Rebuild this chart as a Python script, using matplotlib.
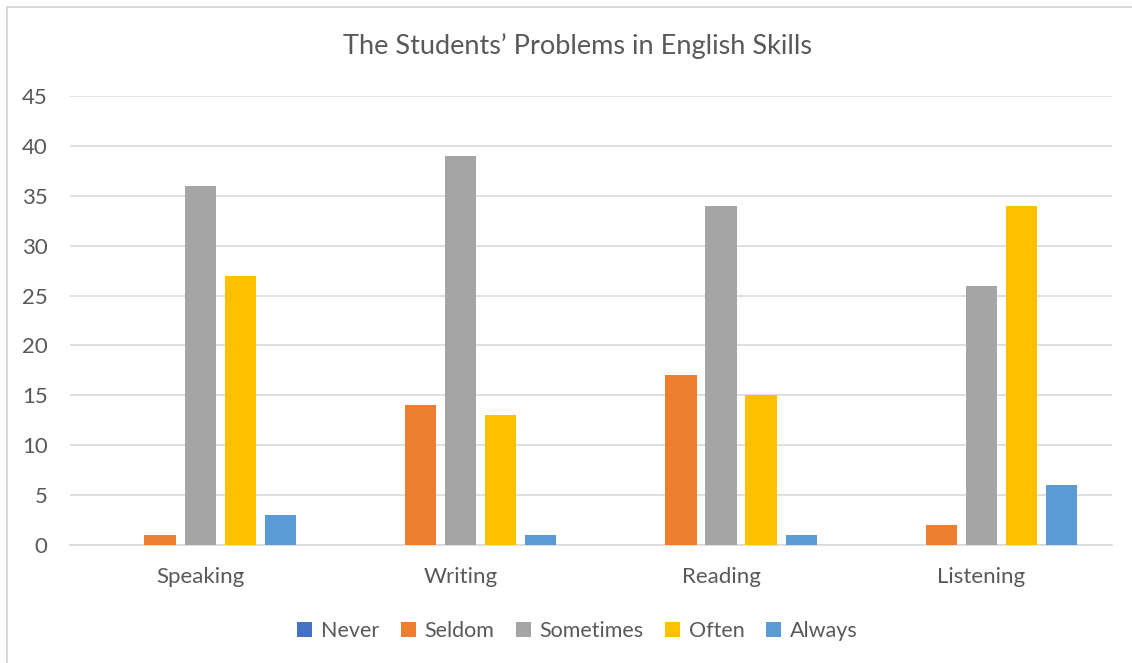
import matplotlib.pyplot as plt
import numpy as np

skills = ['Speaking', 'Writing', 'Reading', 'Listening']
series = ['Never', 'Seldom', 'Sometimes', 'Often', 'Always']
never = [0, 0, 0, 0]
seldom = [1, 14, 17, 2]
sometimes = [36, 39, 34, 26]
often = [27, 13, 15, 34]
always = [3, 1, 1, 6]
colors = ['#4472c4', '#ed7d31', '#a5a5a5', '#ffc000', '#5b9bd5']

plt.rcParams['font.family'] = ['Lato', 'DejaVu Sans']

fig = plt.figure(figsize=(11.32, 6.63), dpi=100)
ax = fig.add_axes([0.0618, 0.178, 0.9202, 0.677])

x = np.arange(len(skills))
step = 0.154
width = 0.12
for i, (vals, name) in enumerate(zip([never, seldom, sometimes, often, always], series)):
    ax.bar(x + (i - 2) * step, vals, width, color=colors[i], label=name, zorder=3)

ax.set_xlim(-0.5, 3.5)
ax.set_ylim(0, 45)
ax.set_yticks(range(0, 46, 5))
ax.set_xticks(x)
ax.set_xticklabels(skills)
ax.tick_params(axis='both', length=0, colors='#595959', labelsize=16)
ax.tick_params(axis='x', pad=16)
ax.tick_params(axis='y', pad=16)
ax.grid(axis='y', color='#d9d9d9', linewidth=1.2, zorder=0)
for s in ['top', 'right', 'left']:
    ax.spines[s].set_visible(False)
ax.spines['bottom'].set_color('#d9d9d9')
ax.spines['bottom'].set_linewidth(1.2)

fig.text(0.5105, 0.93, 'The Students\u2019 Problems in English Skills', ha='center', va='center',
         fontsize=19.5, color='#595959')

leg = fig.legend(loc='center', bbox_to_anchor=(0.51, 0.048), ncol=5, frameon=False,
                 fontsize=15.5, handlelength=0.7, handleheight=0.7, handletextpad=0.4,
                 columnspacing=1.0)
for t in leg.get_texts():
    t.set_color('#595959')

# only the top and left edges of the chart frame are visible
fig.add_artist(plt.Line2D([0.0062, 0.0062], [0, 0.9895], transform=fig.transFigure,
                          color='#d9d9d9', linewidth=1.5))
fig.add_artist(plt.Line2D([0.0062, 1], [0.9895, 0.9895], transform=fig.transFigure,
                          color='#d9d9d9', linewidth=1.5))

fig.savefig('out.png', dpi=100)
